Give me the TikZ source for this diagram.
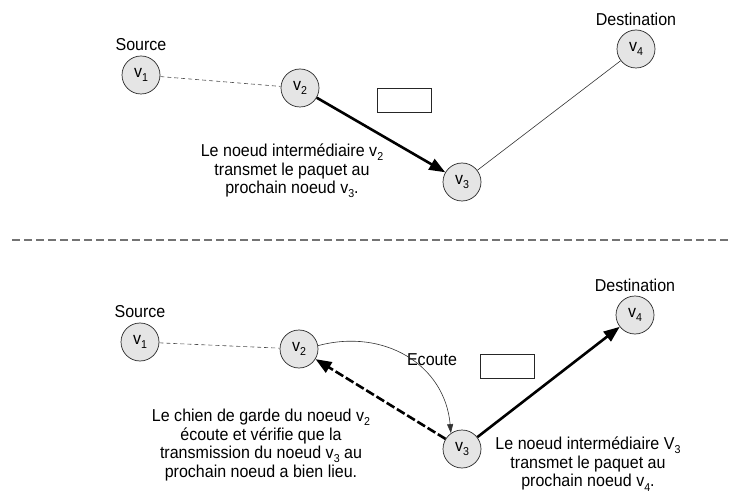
\documentclass[tikz,border=0pt]{standalone}
\usepackage{fontspec}
\setmainfont[FakeStretch=0.93]{Liberation Sans}
\usepackage{tikz}
\usetikzlibrary{positioning,arrows.meta}
\newcommand{\lowidx}[1]{\raisebox{-0.45ex}{\fontsize{11.5}{11.5}\selectfont #1}}

\begin{document}
\begin{tikzpicture}[x=1bp,y=1bp]
\tikzstyle{every node}+=[inner sep=0pt,font=\fontsize{17.3}{18.7}\selectfont]
\tikzstyle{station}=[draw=black!85,fill=black!10,circle,minimum size=38bp,line width=0.7bp]
\tikzstyle{hop}=[line width=2.6bp,-{Triangle[length=16bp,width=12bp]}]
\tikzstyle{probe}=[line width=2.6bp,dash pattern=on 9bp off 3bp,-{Triangle[length=16bp,width=12bp]}]
\tikzstyle{idle}=[black!70,line width=0.6bp,dash pattern=on 4bp off 3bp]
\tikzstyle{link}=[black!80,line width=0.6bp]
\tikzstyle{packet}=[draw=black!85,line width=0.7bp,minimum width=54bp,minimum height=24bp]
\useasboundingbox (0,0) rectangle (730,-498);
\node [station] (t1) at (141,-75) {v\lowidx{1}};
\node [station] (t2) at (300,-88) {v\lowidx{2}};
\node [station] (t3) at (462,-182) {v\lowidx{3}};
\node [station] (t4) at (636,-49) {v\lowidx{4}};
\node [above=5bp of t1] (tsrc) {Source};
\node [above=4bp of t4] (tdst) {Destination};
\node [packet] (tbox) at (404,-100) {};
\node [align=center] (ttxt) at (292,-171) {Le noeud intermédiaire v\lowidx{2}\\transmet le paquet au\\prochain noeud v\lowidx{3}.};
\draw [idle] (t1) -- (t2);
\draw [hop] (t2) -- (t3);
\draw [link] (t3) -- (t4);
\coordinate (sepl) at (12,-240);
\coordinate (sepr) at (730,-240);
\draw [black!55,line width=1.2bp,dash pattern=on 8bp off 4bp] (sepl) -- (sepr);
\node [station] (b1) at (140,-342) {v\lowidx{1}};
\node [station] (b2) at (299,-349) {v\lowidx{2}};
\node [station] (b3) at (462,-449) {v\lowidx{3}};
\node [station] (b4) at (635,-315) {v\lowidx{4}};
\node [above=5bp of b1] (bsrc) {Source};
\node [above=4bp of b4] (bdst) {Destination};
\node [packet] (bbox) at (507,-366) {};
\node (becoute) at (432,-360) {Ecoute};
\node [align=center] (bleft) at (261,-445) {Le chien de garde du noeud v\lowidx{2}\\écoute et vérifie que la\\transmission du noeud v\lowidx{3} au\\prochain noeud a bien lieu.};
\node [align=center] (bright) at (588,-464) {Le noeud intermédiaire V\lowidx{3}\\transmet le paquet au\\prochain noeud v\lowidx{4}.};
\draw [idle] (b1) -- (b2);
\draw [probe] (b3) -- (b2);
\draw [hop] (b3) -- (b4);
\draw [link,-{Triangle[length=9bp,width=6bp]}] (b2.10) to[out=15,in=95,looseness=1.1] (b3.125);
\end{tikzpicture}
\end{document}
